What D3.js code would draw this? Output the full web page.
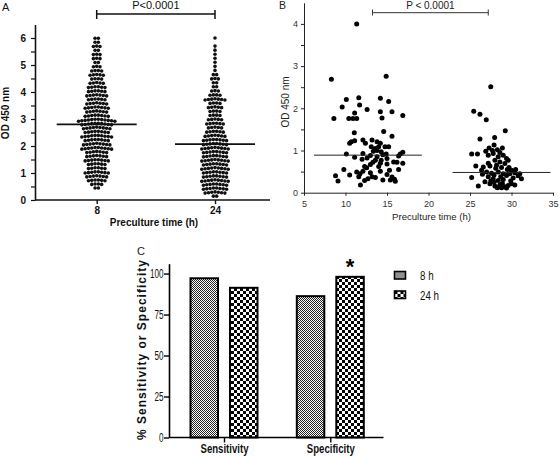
<!DOCTYPE html>
<html><head><meta charset="utf-8">
<script src="https://cdn.jsdelivr.net/npm/d3@7"></script>
<style>body{margin:0;background:#fff}svg{display:block}</style>
</head><body>
<script>
// ---------- DATA ----------
// Panel A: beeswarm rows (OD 450 value) and number of dots in each row
const rowValuesA = [6.0,5.85,5.7,5.55,5.4,5.25,5.1,4.95,4.8,4.65,4.5,4.35,4.2,4.05,3.9,3.75,3.6,3.45,3.3,3.15,3.0,2.85,2.7,2.55,2.4,2.25,2.1,1.95,1.8,1.65,1.5,1.35,1.2,1.05,0.9,0.75,0.6,0.45,0.3,0.15];
const counts8h  = [2,2,3,2,3,3,2,3,4,5,4,5,6,6,7,6,7,8,7,8,12,10,9,8,10,8,9,10,7,7,8,6,6,8,7,6,4,2,0,0];
const counts24h = [1,0,1,1,1,1,1,1,1,2,3,2,2,3,4,7,4,5,4,4,5,6,5,6,7,8,8,9,8,8,9,8,9,8,8,9,8,8,7,2];
const categoriesA = ["8","24"];
const meansA = [2.8, 2.07];
const yTicksA = [0,0.5,1,1.5,2,2.5,3,3.5,4,4.5,5,5.5,6];

// Panel B: [preculture time (h), OD 450]
const pointsB1 = [[11.35,4.0],[8.3,2.69],[14.9,2.76],[10.1,2.21],[11.6,2.25],[14.2,2.24],[15.2,2.16],[9.6,2.03],[11.7,2.08],[12.6,1.97],[11.1,1.89],[14.2,1.92],[15.6,1.92],[8.6,1.76],[10.4,1.76],[10.9,1.76],[11.35,1.76],[14.4,1.77],[16.9,1.83],[14.6,1.45],[11.06,1.42],[15.6,1.34],[10.7,1.21],[11.1,1.23],[10.5,1.17],[12.1,1.25],[13.2,1.25],[13.8,1.21],[14.2,1.17],[12.4,1.17],[13.1,1.09],[13.6,1.05],[14.0,1.09],[14.76,1.09],[15.2,1.09],[13.35,0.98],[13.8,1.0],[14.3,0.97],[10.1,0.92],[12.1,0.93],[13.0,0.88],[13.8,0.85],[14.5,0.9],[14.9,0.92],[16.6,0.92],[16.9,0.96],[11.1,0.84],[16.4,0.87],[12.0,0.79],[12.6,0.82],[13.6,0.77],[14.3,0.77],[15.0,0.81],[15.8,0.73],[16.2,0.72],[16.9,0.7],[13.3,0.72],[13.0,0.67],[12.3,0.62],[14.2,0.7],[15.0,0.68],[9.8,0.55],[10.5,0.42],[11.35,0.49],[11.75,0.45],[12.1,0.51],[12.55,0.59],[13.0,0.47],[13.2,0.38],[13.6,0.36],[14.0,0.62],[14.2,0.51],[15.0,0.43],[15.3,0.53],[15.6,0.37],[15.9,0.32],[16.0,0.27],[16.4,0.55],[8.8,0.4],[9.1,0.28],[11.8,0.18],[11.6,0.38],[14.5,0.3],[15.4,0.3],[12.3,0.29],[12.7,0.33]];
const pointsB2 = [[27.5,2.51],[25.45,1.93],[26.2,1.86],[26.96,1.73],[29.25,1.47],[26.2,1.27],[27.97,1.31],[27.3,1.06],[27.9,1.13],[28.9,1.06],[25.2,0.92],[25.9,0.92],[27.2,0.89],[27.8,0.93],[28.4,0.85],[29.0,0.89],[29.4,0.81],[29.6,0.77],[28.0,0.77],[28.6,0.73],[29.2,0.69],[26.6,0.61],[27.4,0.63],[28.2,0.65],[25.7,0.63],[30.0,0.53],[30.5,0.55],[26.4,0.53],[27.0,0.49],[27.6,0.46],[28.4,0.49],[29.0,0.45],[29.4,0.41],[29.8,0.45],[31.0,0.45],[31.2,0.33],[25.2,0.36],[27.2,0.38],[27.8,0.33],[28.4,0.29],[29.0,0.31],[26.0,0.16],[27.4,0.21],[28.0,0.16],[28.6,0.18],[29.2,0.14],[29.6,0.17],[30.0,0.21],[30.4,0.18],[26.8,0.26],[28.8,0.12],[29.4,0.11],[28.3,0.12],[27.7,1.0],[28.3,1.02],[28.1,0.58],[28.8,0.6],[29.7,0.6],[27.9,0.42],[28.7,0.38],[30.2,0.35],[30.8,0.4],[27.5,0.28],[29.9,0.28],[28.9,0.22],[27.2,0.7],[26.9,0.98],[28.6,0.95],[29.5,0.55],[30.4,0.47],[26.5,0.44],[27.9,0.25]];
const meanLinesB = [{y:0.89, x0:6.2, x1:19.2},{y:0.48, x0:22.9, x1:34.7}];
const bracketB = [13.25, 27.2];
const xTicksB = [5,10,15,20,25,30,35];
const yTicksB = [0,0.5,1,1.5,2,2.5,3,3.5,4];

// Panel C
const groupsC = ["Sensitivity","Specificity"];
const seriesC = ["8 h","24 h"];
const values8h  = [97.1, 86.2];
const values24h = [91.3, 98.0];
const yTicksC = [0,25,50,75,100];

// ---------- SVG ----------
const svg = d3.select("body").append("svg").attr("width",560).attr("height",456);
svg.append("rect").attr("width",560).attr("height",456).attr("fill","#fff");
const FA = "'Liberation Sans', Arial, sans-serif";
function narrow(sel, f){
  sel.each(function(){ const L = this.getComputedTextLength(); d3.select(this).attr("textLength", L*f).attr("lengthAdjust","spacingAndGlyphs"); });
}

// ===== Panel A =====
const gA = svg.append("g");
const xA = d3.scalePoint().domain(categoriesA).range([96.7, 215]);
const yA = d3.scaleLinear().domain([0,6.5]).range([200, 24.5]);

gA.append("line").attr("x1",35).attr("x2",270).attr("y1",yA(0)).attr("y2",yA(0)).attr("stroke","#111").attr("stroke-width",1.6);
const axA = gA.append("g").attr("transform",`translate(0,${yA(0)})`).call(d3.axisBottom(xA).tickSize(4).tickSizeOuter(0));
axA.select(".domain").remove();
axA.selectAll("line").attr("stroke","#111").attr("stroke-width",1.4);
axA.selectAll("text").attr("font-family",FA).attr("font-weight","bold").attr("font-size",10).attr("fill","#111");

const ayA = gA.append("g").attr("transform","translate(35,0)")
  .call(d3.axisLeft(yA).tickValues(yTicksA).tickSize(4).tickSizeOuter(0).tickFormat(d => Number.isInteger(d) ? d : ""));
ayA.select(".domain").attr("stroke","#111").attr("stroke-width",1.6);
ayA.selectAll("line").attr("stroke","#111").attr("stroke-width",1.2);
ayA.selectAll("text").attr("font-family",FA).attr("font-weight","bold").attr("font-size",10).attr("fill","#111").attr("x",-9);

// beeswarm dots
[counts8h, counts24h].forEach((counts, gi) => {
  const cx = xA(categoriesA[gi]);
  const dots = [];
  rowValuesA.forEach((v, ri) => {
    const n = counts[ri];
    for (let i = 0; i < n; i++) {
      const off = (i - (n-1)/2) * 3.3;
      dots.push({x: cx + off, y: yA(v) + Math.abs(off)*0.12});
    }
  });
  gA.append("g").selectAll("circle").data(dots).join("circle")
    .attr("cx", d => d.x).attr("cy", d => d.y).attr("r", 1.8).attr("fill","#111");
});
gA.append("g").selectAll("line").data(meansA).join("line")
  .attr("x1",(d,i)=>xA(categoriesA[i])-40).attr("x2",(d,i)=>xA(categoriesA[i])+40)
  .attr("y1",d=>yA(d)).attr("y2",d=>yA(d)).attr("stroke","#111").attr("stroke-width",1.6);
const bA = [xA("8"), xA("24")];
gA.append("line").attr("x1",bA[0]).attr("x2",bA[1]).attr("y1",14).attr("y2",14).attr("stroke","#111").attr("stroke-width",1.5);
bA.forEach(x => gA.append("line").attr("x1",x).attr("x2",x).attr("y1",10).attr("y2",19).attr("stroke","#111").attr("stroke-width",1.5));
gA.append("text").attr("x",(bA[0]+bA[1])/2).attr("y",9.2).attr("text-anchor","middle").attr("font-family",FA).attr("font-size",11).attr("fill","#111").text("P<0.0001");
gA.append("text").attr("x",2).attr("y",11).attr("font-family",FA).attr("font-size",11).attr("fill","#111").text("A");
gA.append("text").attr("transform","translate(9,113) rotate(-90)").attr("text-anchor","middle").attr("font-family",FA).attr("font-weight","bold").attr("font-size",10).attr("fill","#111").text("OD 450 nm");
gA.append("text").attr("x",154).attr("y",225.5).attr("text-anchor","middle").attr("font-family",FA).attr("font-weight","bold").attr("font-size",10).attr("fill","#111").text("Preculture time (h)");

// ===== Panel B =====
const gB = svg.append("g");
const xB = d3.scaleLinear().domain([5,35]).range([304,553]);
const yB = d3.scaleLinear().domain([0,4.5]).range([192.7, 2.8]);
const axB = gB.append("g").attr("transform",`translate(0,${yB(0)})`).call(d3.axisBottom(xB).tickValues(xTicksB).tickSize(3).tickSizeOuter(0));
axB.select(".domain").attr("stroke","#222").attr("stroke-width",1);
axB.selectAll("line").attr("stroke","#222");
axB.selectAll("text").attr("font-family",FA).attr("font-size",9).attr("fill","#333").attr("dy","0.9em");
const ayB = gB.append("g").attr("transform",`translate(${xB(5)},0)`)
  .call(d3.axisLeft(yB).tickValues(yTicksB).tickSize(3).tickSizeOuter(0).tickFormat(d => Number.isInteger(d) ? d : ""));
ayB.select(".domain").attr("stroke","#222").attr("stroke-width",1);
ayB.selectAll("line").attr("stroke","#222");
ayB.selectAll("text").attr("font-family",FA).attr("font-size",9).attr("fill","#333").attr("x",-6);

gB.append("g").selectAll("circle").data(pointsB1.concat(pointsB2)).join("circle")
  .attr("cx",d=>xB(d[0])).attr("cy",d=>yB(d[1])).attr("r",2.5).attr("fill","#000");
gB.append("g").selectAll("line").data(meanLinesB).join("line")
  .attr("x1",d=>xB(d.x0)).attr("x2",d=>xB(d.x1)).attr("y1",d=>yB(d.y)).attr("y2",d=>yB(d.y)).attr("stroke","#222").attr("stroke-width",1);
gB.append("line").attr("x1",xB(bracketB[0])).attr("x2",xB(bracketB[1])).attr("y1",12.7).attr("y2",12.7).attr("stroke","#333").attr("stroke-width",1);
bracketB.forEach(v => gB.append("line").attr("x1",xB(v)).attr("x2",xB(v)).attr("y1",9.5).attr("y2",15.5).attr("stroke","#333").attr("stroke-width",1));
gB.append("text").attr("x",(xB(bracketB[0])+xB(bracketB[1]))/2).attr("y",8.5).attr("text-anchor","middle").attr("font-family",FA).attr("font-size",10).attr("fill","#222").text("P < 0.0001");
gB.append("text").attr("x",279).attr("y",9).attr("font-family",FA).attr("font-size",10.5).attr("fill","#222").text("B");
gB.append("text").attr("transform","translate(289,102) rotate(-90)").attr("text-anchor","middle").attr("font-family",FA).attr("font-size",10).attr("fill","#222").text("OD 450 nm");
gB.append("text").attr("x",431.5).attr("y",220).attr("text-anchor","middle").attr("font-family",FA).attr("font-size",9.6).attr("fill","#222").text("Preculture time (h)");

// ===== Panel C =====
const defs = svg.append("defs");
const p8 = defs.append("pattern").attr("id","pat8").attr("patternUnits","userSpaceOnUse").attr("width",2).attr("height",2);
p8.append("rect").attr("width",2).attr("height",2).attr("fill","#fff");
p8.append("rect").attr("width",1).attr("height",1).attr("fill","#222");
p8.append("rect").attr("x",1).attr("y",1).attr("width",1).attr("height",1).attr("fill","#222");
const p24 = defs.append("pattern").attr("id","pat24").attr("patternUnits","userSpaceOnUse").attr("width",6).attr("height",6);
p24.append("rect").attr("width",6).attr("height",6).attr("fill","#fff");
p24.append("rect").attr("width",3).attr("height",3).attr("fill","#000");
p24.append("rect").attr("x",3).attr("y",3).attr("width",3).attr("height",3).attr("fill","#000");
const fills = {"8 h":"url(#pat8)","24 h":"url(#pat24)"};

const gC = svg.append("g");
const xC = d3.scalePoint().domain(groupsC).range([224, 330.3]);
const xSub = d3.scaleBand().domain(seriesC).range([-33.5, 33.5]).paddingInner(0.304);
const yC = d3.scaleLinear().domain([0,106]).range([437.5, 263.7]);

const barData = [];
groupsC.forEach((g,i) => {
  barData.push({g, s:"8 h", v: values8h[i]});
  barData.push({g, s:"24 h", v: values24h[i]});
});
gC.append("g").selectAll("rect").data(barData).join("rect")
  .attr("x",d=>xC(d.g)+xSub(d.s)).attr("width",xSub.bandwidth())
  .attr("y",d=>yC(d.v)).attr("height",d=>yC(0)-yC(d.v))
  .attr("fill",d=>fills[d.s]).attr("stroke","#000").attr("stroke-width",2);

gC.append("line").attr("x1",169).attr("x2",383.5).attr("y1",yC(0)).attr("y2",yC(0)).attr("stroke","#000").attr("stroke-width",1.6);
const axC = gC.append("g").attr("transform",`translate(0,${yC(0)})`).call(d3.axisBottom(xC).tickSize(5).tickSizeOuter(0));
axC.select(".domain").remove();
axC.selectAll("line").attr("stroke","#000").attr("stroke-width",1.4);
axC.selectAll("text").attr("font-family",FA).attr("font-weight","bold").attr("font-size",12).attr("fill","#111").attr("y",7).attr("dy","0.72em");
narrow(axC.selectAll("text"), 0.8);
const ayC = gC.append("g").attr("transform","translate(169,0)").call(d3.axisLeft(yC).tickValues(yTicksC).tickSize(5).tickSizeOuter(0));
ayC.select(".domain").attr("stroke","#000").attr("stroke-width",1.6);
ayC.selectAll("line").attr("stroke","#000").attr("stroke-width",1.4);
ayC.selectAll("text").attr("font-family",FA).attr("font-size",12.5).attr("fill","#111").attr("x",-5.5);
narrow(ayC.selectAll("text"), 0.65);

gC.append("text").attr("x",xC("Specificity")+xSub("24 h")+xSub.bandwidth()/2).attr("y",yC(values24h[1])-2.5).attr("text-anchor","middle")
  .attr("font-family",FA).attr("font-weight","bold").attr("font-size",22).attr("fill","#000").text("*");

const lg = gC.append("g").selectAll("g").data(seriesC).join("g").attr("transform",(d,i)=>`translate(394.5,${271.5+i*19.5})`);
lg.append("rect").attr("width",11).attr("height",7.5).attr("fill",d=>fills[d]).attr("stroke","#000").attr("stroke-width",1.6);
const lgt = lg.append("text").attr("x",25.5).attr("y",8.5).attr("font-family",FA).attr("font-size",12.5).attr("fill","#111").text(d=>d);
narrow(lgt, 0.78);

gC.append("text").attr("x",137).attr("y",255).attr("font-family",FA).attr("font-size",11).attr("fill","#222").text("C");
gC.append("text").attr("transform","translate(146,350) rotate(-90)").attr("text-anchor","middle")
  .attr("font-family",FA).attr("font-weight","bold").attr("font-size",12).attr("fill","#111")
  .attr("textLength",180).attr("lengthAdjust","spacing").text("% Sensitivity or Specificity");
</script>
</body></html>
